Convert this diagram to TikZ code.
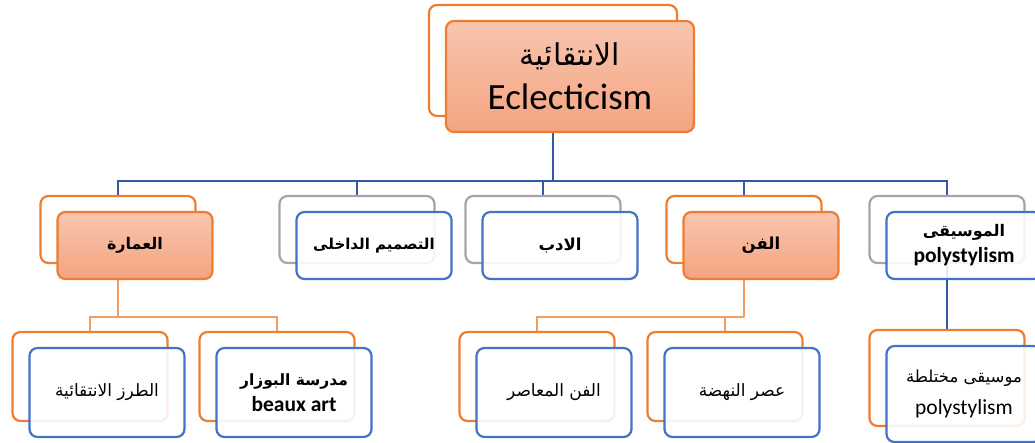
\documentclass[tikz,border=0pt]{standalone}
\usepackage{fontspec}
\setmainfont{Carlito}
\newfontfamily\arabicfont[Script=Arabic]{DejaVu Sans}
\TeXXeTstate=1
\usetikzlibrary{backgrounds}
\definecolor{boxOrange}{HTML}{ED7D31}
\definecolor{boxBlue}{HTML}{4472C4}
\definecolor{boxGray}{HTML}{A5A5A5}
\definecolor{busBlue}{HTML}{3358A4}
\definecolor{twigOrange}{HTML}{F29B62}
\definecolor{salmonTop}{HTML}{F8C5AF}
\definecolor{salmonBot}{HTML}{F4A47F}
\newcommand{\arSize}[1]{\fontsize{#1}{26}\selectfont\arabicfont}

\begin{document}
\begin{tikzpicture}[x=1pt,y=-1pt]
	\pgfmathsetmacro{\shiftX}{17}
	\pgfmathsetmacro{\shiftY}{16}
	\tikzstyle{box}=[rounded corners=8pt, line width=2.2pt, minimum width=155pt, minimum height=67pt, inner sep=0pt, align=center, font=\fontsize{21.5}{26}\selectfont]
	\tikzstyle{backO}=[box, draw=boxOrange]
	\tikzstyle{backG}=[box, draw=boxGray]
	\tikzstyle{frontB}=[box, draw=boxBlue, fill=white, fill opacity=0.88, text opacity=1]
	\tikzstyle{frontS}=[box, draw=boxOrange, top color=salmonTop, bottom color=salmonBot]
	\tikzstyle{bus}=[busBlue, line width=2.4pt]
	\tikzstyle{twig}=[twigOrange, line width=1.8pt]
	\tikzstyle{tall}=[minimum height=89pt]

	\useasboundingbox (0,0) rectangle (1035,443);
	\clip (0,0) rectangle (1035,443);

	\node[backO, minimum width=248pt, minimum height=111pt] (Top) at (553, 60.5) {};
	\node[frontS, minimum width=248pt, minimum height=111pt, font=\fontsize{37}{44}\selectfont] (TopF) at (553+\shiftX, 60.5+\shiftY) {{\arSize{30}\beginR الانتقائية\endR}\\Eclecticism};

	\node[backO] (Arch) at (118, 229.5) {};
	\node[frontS] (ArchF) at (118+\shiftX, 229.5+\shiftY) {{\arSize{16}\bfseries\beginR العمارة\endR}};

	\node[backG] (Inter) at (357, 229.5) {};
	\node[frontB] (InterF) at (357+\shiftX, 229.5+\shiftY) {{\arSize{15}\bfseries\beginR التصميم الداخلى\endR}};

	\node[backG] (Lit) at (543, 229.5) {};
	\node[frontB] (LitF) at (543+\shiftX, 229.5+\shiftY) {{\arSize{16.5}\bfseries\beginR الادب\endR}};

	\node[backO] (Art) at (744, 229.5) {};
	\node[frontS] (ArtF) at (744+\shiftX, 229.5+\shiftY) {{\arSize{16.5}\bfseries\beginR الفن\endR}};

	\node[backG] (Music) at (947, 229.5) {};
	\node[frontB] (MusicF) at (947+\shiftX, 229.5+\shiftY) {{\arSize{16}\bfseries\beginR الموسيقى\endR}\\\bfseries polystylism};

	\node[backO, tall] (Style) at (90, 376.5) {};
	\node[frontB, tall] (StyleF) at (90+\shiftX, 376.5+\shiftY) {{\arSize{17}\beginR الطرز الانتقائية\endR}};

	\node[backO, tall] (Beaux) at (277, 376.5) {};
	\node[frontB, tall] (BeauxF) at (277+\shiftX, 376.5+\shiftY) {{\arSize{15.5}\bfseries\beginR مدرسة البوزار\endR}\\\bfseries beaux art};

	\node[backO, tall] (Modern) at (537, 376.5) {};
	\node[frontB, tall] (ModernF) at (537+\shiftX, 376.5+\shiftY) {{\arSize{17}\beginR الفن المعاصر\endR}};

	\node[backO, tall] (Renais) at (725, 376.5) {};
	\node[frontB, tall] (RenaisF) at (725+\shiftX, 376.5+\shiftY) {{\arSize{17}\beginR عصر النهضة\endR}};

	\node[backO, minimum height=96pt] (Poly) at (947, 378) {};
	\node[frontB, minimum height=96pt] (PolyF) at (947+\shiftX, 378+\shiftY) {{\arSize{16.5}\beginR موسيقى مختلطة\endR}\\[6pt]polystylism};

	\coordinate (bus) at (553, 181);
	\coordinate (ArchJ) at (118, 317);
	\coordinate (ArtJ) at (744, 317);

	\begin{scope}[on background layer]
		\draw[bus] (Top.south) -- (bus);
		\draw[bus] (bus) -| (Arch.north);
		\draw[bus] (bus) -| (Inter.north);
		\draw[bus] (bus) -| (Lit.north);
		\draw[bus] (bus) -| (Art.north);
		\draw[bus] (bus) -| (Music.north);
		\draw[bus, line width=2pt] (Music.south) -- (Poly.north);

		\draw[twig] (Arch.south) -- (ArchJ);
		\draw[twig] (ArchJ) -| (Style.north);
		\draw[twig] (ArchJ) -| (Beaux.north);
		\draw[twig] (Art.south) -- (ArtJ);
		\draw[twig] (ArtJ) -| (Modern.north);
		\draw[twig] (ArtJ) -| (Renais.north);
	\end{scope}
\end{tikzpicture}
\end{document}
